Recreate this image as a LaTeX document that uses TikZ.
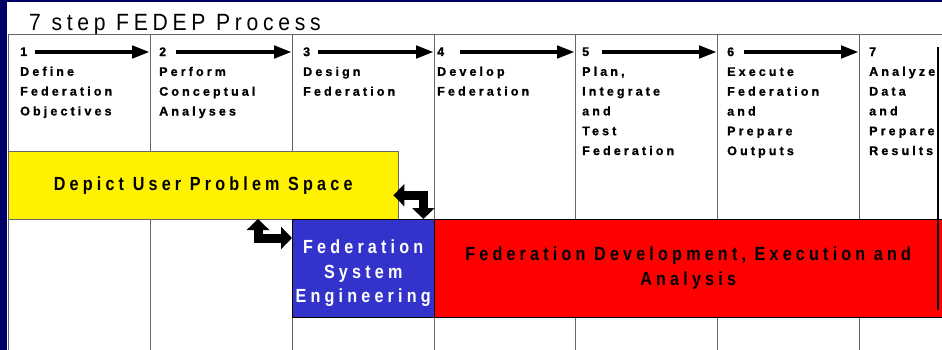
\documentclass[tikz,border=0pt]{standalone}
\usepackage{fontspec}
\setmainfont{Liberation Sans}
\newfontfamily\titlefont[FakeStretch=0.9,LetterSpace=20]{Liberation Sans}
\newfontfamily\stepfont[LetterSpace=25,FakeBold=1]{Liberation Sans}
\newfontfamily\boxfont[FakeStretch=0.85,LetterSpace=22]{Liberation Sans}
\usetikzlibrary{arrows.meta,calc}
\definecolor{navy}{RGB}{0,0,102}
\definecolor{fseblue}{RGB}{51,51,204}
\tikzset{
  grid/.style={draw=black!60, line width=0.8pt},
  steptext/.style={anchor=north west, inner sep=0pt, align=left,
    font=\stepfont\bfseries\fontsize{12.5}{19.8}\selectfont},
  phase/.style={anchor=north west, inner sep=0pt, align=center,
    font=\boxfont\bfseries\fontsize{19}{24.5}\selectfont},
  steparrow/.style={line width=4.5pt, -{Triangle[length=18pt,width=12pt]}},
  blockarrow/.style={line width=9pt,
    {Triangle[length=11pt,width=22pt]}-{Triangle[length=11pt,width=22pt]}}
}
\begin{document}
\begin{tikzpicture}[x=1pt,y=-1pt]
  \useasboundingbox (0,0) rectangle (942,350);

  % frame
  \fill[navy] (0,0) rectangle (942,2.5);
  \fill[navy] (0,0) rectangle (7,350);

  \node (title) at (29,31) [anchor=base west, inner sep=0pt,
    font=\titlefont\fontsize{23.5}{28}\selectfont] {7 step FEDEP Process};

  % grid
  \draw[grid] (8,34) -- (942,34);
  \draw[grid] (8,219) -- (942,219);
  \foreach \x in {8,150,292,434,575,717,859}
    \draw[grid] (\x,34) -- (\x,350);

  % steps
  \node (s1) at (20,47.2) [steptext] {1\\Define\\Federation\\Objectives};
  \node (s2) at (159,47.2) [steptext] {2\\Perform\\Conceptual\\Analyses};
  \node (s3) at (303,47.2) [steptext] {3\\Design\\Federation};
  \node (s4) at (437,47.2) [steptext] {4\\Develop\\Federation};
  \node (s5) at (582,47.2) [steptext] {5\\Plan,\\Integrate\\and\\Test\\Federation};
  \node (s6) at (727,47.2) [steptext] {6\\Execute\\Federation\\and\\Prepare\\Outputs};
  \node (s7) at (869,47.2) [steptext] {7\\Analyze\\Data\\and\\Prepare\\Results};

  \coordinate (c1) at (8,52);
  \coordinate (c2) at (150,52);
  \coordinate (c3) at (292,52);
  \coordinate (c4) at (434,52);
  \coordinate (c5) at (575,52);
  \coordinate (c6) at (717,52);
  \coordinate (c7) at (859,52);

  \draw[steparrow] ([xshift=27pt]c1) -- (c2);
  \draw[steparrow] ([xshift=26pt]c2) -- (c3);
  \draw[steparrow] ([xshift=26pt]c3) -- (c4);
  \draw[steparrow] ([xshift=26pt]c4) -- (c5);
  \draw[steparrow] ([xshift=27pt]c5) -- (c6);
  \draw[steparrow] ([xshift=27pt]c6) -- (c7);

  % phases
  \node (ups) at (8,151) [phase, draw=black!60, fill=yellow,
    minimum width=390pt, minimum height=68pt] {Depict User Problem Space};
  \node (fse) at (292,219) [phase, draw=black, fill=fseblue,
    minimum width=142pt, minimum height=98pt] {};
  \node (fsetext) at ([yshift=-5pt]fse.center) [phase, anchor=center, text=white]
    {Federation\\System\\Engineering};
  \node (fdea) at (434,219) [phase, draw=black, fill=red,
    minimum width=508pt, minimum height=98pt]
    {Federation Development, Execution and\\Analysis};

  \draw[line width=2pt] (938,47) -- (938,310);

  % feedback
  \draw[blockarrow] ([xshift=-5pt,yshift=-10pt]ups.east) -| ([xshift=-11pt]fse.north east);
  \draw[blockarrow] ([xshift=-34pt]fse.north west) |- ([yshift=-19pt]fse.north west);
\end{tikzpicture}
\end{document}
